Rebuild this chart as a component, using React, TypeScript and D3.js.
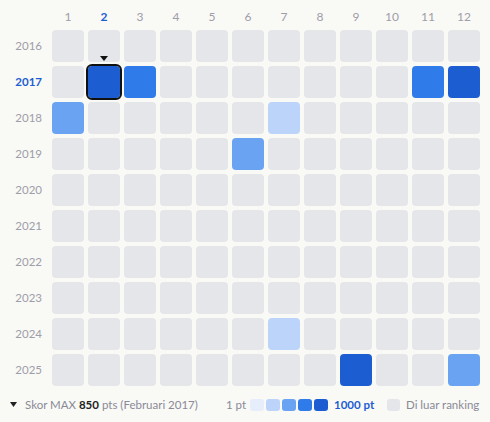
import React from "react";
import * as d3 from "d3";

const months = ["1", "2", "3", "4", "5", "6", "7", "8", "9", "10", "11", "12"];
const years = ["2016", "2017", "2018", "2019", "2020", "2021", "2022", "2023", "2024", "2025"];
// ranked entries: [year, month, points]
const entryYears = ["2017", "2017", "2017", "2017", "2018", "2018", "2019", "2024", "2025", "2025"];
const entryMonths = ["2", "3", "11", "12", "1", "7", "6", "7", "9", "12"];
const entryPoints = [850, 700, 680, 820, 520, 300, 480, 280, 810, 500];
const palette = ["#e6eefc", "#bdd4fa", "#6aa3f1", "#2e7be9", "#1c5ed2"];
const maxYear = "2017";
const maxMonth = "2";
const maxPoints = 850;

export default function App() {
  const W = 490, H = 422;
  const x = d3.scaleBand().domain(months).range([50, 482]).paddingInner(4 / 36).paddingOuter(2 / 36);
  const y = d3.scaleBand().domain(years).range([28, 388]).paddingInner(4 / 36).paddingOuter(2 / 36);
  const color = d3.scaleQuantize<string>().domain([1, 1000]).range(palette);
  const lookup = new Map<string, number>();
  entryYears.forEach((yr, i) => lookup.set(yr + "-" + entryMonths[i], entryPoints[i]));
  const font = "Lato, 'Noto Sans', sans-serif";
  const bw = x.bandwidth(), bh = y.bandwidth();
  const mx = x(maxMonth)!, my = y(maxYear)!;
  const legY = 405;
  const swX = d3.range(palette.length).map((i) => 250 + i * 16);
  return (
    <svg width={W} height={H} style={{ position: "absolute", left: 0, top: 0, background: "#f9f9f6" }} fontFamily={font}>
      <rect width={W} height={H} fill="#f9f9f6" />
      {months.map((m) => (
        <text key={m} x={x(m)! + bw / 2} y={21} textAnchor="middle" fontSize={12}
          fill={m === maxMonth ? "#1c5ed2" : "#9e9ea8"} fontWeight={m === maxMonth ? 700 : 400}>{m}</text>
      ))}
      {years.map((yr) => (
        <text key={yr} x={42} y={y(yr)! + bh / 2} dy="0.35em" textAnchor="end" fontSize={11.5}
          fill={yr === maxYear ? "#1c5ed2" : "#9e9ea8"} fontWeight={yr === maxYear ? 700 : 400}>{yr}</text>
      ))}
      {years.map((yr) => months.map((m) => {
        const v = lookup.get(yr + "-" + m);
        return (
          <rect key={yr + m} x={x(m)} y={y(yr)} width={bw} height={bh} rx={4}
            fill={v === undefined ? "#e5e6ea" : color(v)} />
        );
      }))}
      <rect x={mx - 1} y={my - 1} width={bw + 2} height={bh + 2} rx={5} fill="none" stroke="#111" strokeWidth={2} />
      <path d={`M${mx + bw / 2 - 4},${my - 10} L${mx + bw / 2 + 4},${my - 10} L${mx + bw / 2},${my - 5} Z`} fill="#111" />
      {/* legend */}
      <path d={`M10,${legY - 3} L17,${legY - 3} L13.5,${legY + 2} Z`} fill="#222" />
      <text x={25} y={legY} dy="0.35em" fontSize={11.5} fill="#8a8a96">
        Skor MAX <tspan fontWeight={700} fill="#222">{maxPoints}</tspan> pts (Februari 2017)
      </text>
      <text x={226} y={legY} dy="0.35em" fontSize={11.5} fill="#8a8a96">1 pt</text>
      {palette.map((c, i) => (
        <rect key={c} x={swX[i]} y={legY - 6} width={14} height={12} rx={3} fill={c} />
      ))}
      <text x={334} y={legY} dy="0.35em" fontSize={11.5} fill="#1c5ed2" fontWeight={700}>1000 pt</text>
      <rect x={387} y={legY - 6} width={13} height={12} rx={3} fill="#e5e6ea" />
      <text x={406} y={legY} dy="0.35em" fontSize={11.5} fill="#8a8a96">Di luar ranking</text>
    </svg>
  );
}
